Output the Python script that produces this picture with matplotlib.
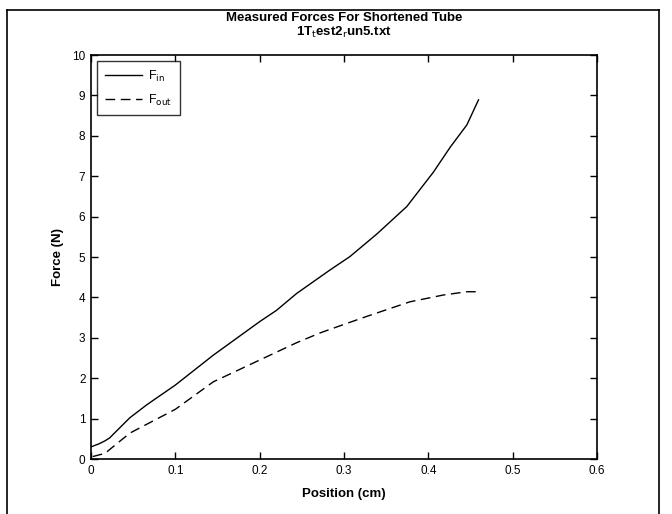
import matplotlib
matplotlib.use("Agg")
import matplotlib.pyplot as plt
from matplotlib.lines import Line2D

plt.rcParams['font.family'] = ['Liberation Sans', 'DejaVu Sans']

# F_in (solid)
pos_in = [0.0, 0.01, 0.0166, 0.022, 0.046, 0.066, 0.100, 0.145, 0.200, 0.220,
          0.244, 0.2835, 0.307, 0.339, 0.3745, 0.406, 0.426, 0.4457, 0.4595]
force_in = [0.30, 0.38, 0.45, 0.52, 1.02, 1.34, 1.83, 2.57, 3.40, 3.68,
            4.10, 4.68, 5.01, 5.57, 6.25, 7.10, 7.72, 8.27, 8.89]
# F_out (dashed)
pos_out = [0.002, 0.0166, 0.026, 0.046, 0.100, 0.145, 0.200, 0.244, 0.2716,
           0.2835, 0.327, 0.378, 0.418, 0.4457, 0.4595]
force_out = [0.06, 0.14, 0.30, 0.64, 1.23, 1.91, 2.45, 2.88, 3.12,
             3.21, 3.53, 3.89, 4.06, 4.14, 4.14]

xticks = [0, 0.1, 0.2, 0.3, 0.4, 0.5, 0.6]
xticklabels = ['0', '0.1', '0.2', '0.3', '0.4', '0.5', '0.6']
yticks = list(range(0, 11))

fig = plt.figure(figsize=(6.72, 5.14), dpi=100)
W, H = 672, 514
ax = fig.add_axes([91 / W, 1 - 459 / H, (597 - 91) / W, (459 - 55) / H])

ax.plot(pos_in, force_in, color='black', lw=1.0, label=r'F$_{\rm in}$')
ax.plot(pos_out, force_out, color='black', lw=1.0, ls=(0, (7, 4)), label=r'F$_{\rm out}$')

ax.set_xlim(0, 0.6)
ax.set_ylim(0, 10)
ax.set_xticks(xticks)
ax.set_xticklabels(xticklabels)
ax.set_yticks(yticks)
ax.tick_params(direction='in', length=5, width=1, top=True, right=True,
               labelsize=8.5, pad=4)
for s in ax.spines.values():
    s.set_linewidth(1.2)

ax.set_xlabel('Position (cm)', fontsize=9.5, fontweight='bold', labelpad=8)
ax.set_ylabel('Force (N)', fontsize=9.5, fontweight='bold', labelpad=6)

fig.text(344 / W, 1 - 18 / H, 'Measured Forces For Shortened Tube',
         ha='center', va='center', fontsize=9.5, fontweight='bold')
fig.text(344 / W, 1 - 32 / H, r'1T$_{\rm t}$est2$_{\rm r}$un5.txt',
         ha='center', va='center', fontsize=9.5, fontweight='bold')

leg = ax.legend(loc='upper left', bbox_to_anchor=(0.0, 1.0), frameon=True,
                fancybox=False, edgecolor='black', fontsize=9,
                handlelength=3.0, handletextpad=0.5, borderpad=0.6,
                labelspacing=0.7, borderaxespad=0.5)
leg.get_frame().set_linewidth(1.0)

# outer frame
fig.add_artist(Line2D([7 / W, 7 / W], [0, 1 - 10 / H], color='black', lw=1.2,
                      transform=fig.transFigure))
fig.add_artist(Line2D([7 / W, 659 / W], [1 - 10 / H, 1 - 10 / H], color='black',
                      lw=1.2, transform=fig.transFigure))
fig.add_artist(Line2D([659 / W, 659 / W], [0, 1 - 10 / H], color='black', lw=1.2,
                      transform=fig.transFigure))

fig.savefig('out.png', dpi=100)
